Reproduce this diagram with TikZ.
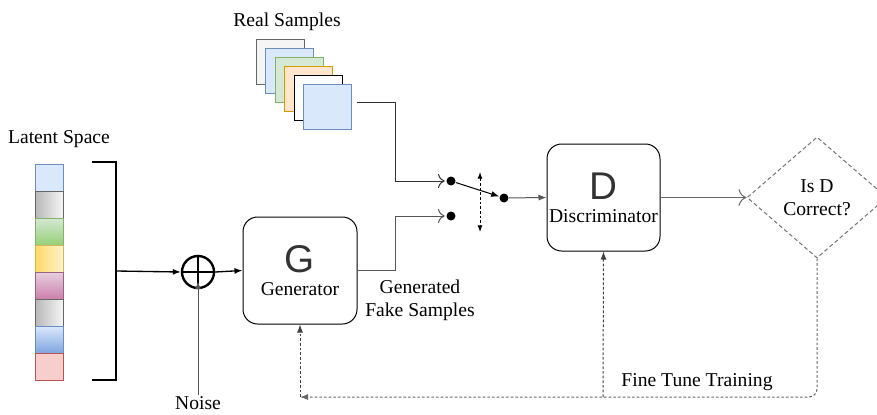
\documentclass[tikz,border=0pt]{standalone}
\usepackage{fontspec}
\setmainfont{Liberation Serif}
\newfontfamily\letterfont{Liberation Sans}
\usetikzlibrary{arrows.meta,shapes.geometric}

\definecolor{blueFill}{HTML}{DAE8FC}
\definecolor{blueLine}{HTML}{6C8EBF}
\definecolor{greenFill}{HTML}{D5E8D4}
\definecolor{greenLine}{HTML}{82B366}
\definecolor{orangeFill}{HTML}{FFE6CC}
\definecolor{orangeLine}{HTML}{D79B00}
\definecolor{greyFill}{HTML}{F5F5F5}
\definecolor{greyLine}{HTML}{666666}
\definecolor{yellowDark}{HTML}{FFD966}
\definecolor{yellowLight}{HTML}{FFF2CC}
\definecolor{yellowLine}{HTML}{D6B656}
\definecolor{pinkLight}{HTML}{E6D0DE}
\definecolor{pinkDark}{HTML}{CD7FAC}
\definecolor{pinkLine}{HTML}{996185}
\definecolor{redFill}{HTML}{F8CECC}
\definecolor{redLine}{HTML}{B85450}
\definecolor{blueDark}{HTML}{7EA6E0}
\definecolor{greenDark}{HTML}{97D077}
\definecolor{wire}{HTML}{555555}

\newcommand\bigchar[1]{{\letterfont\fontsize{29}{29}\selectfont\color{black!80}#1}}

\tikzset{every picture/.style={line width=0.75pt}}
\tikzset{
  txt/.style={font=\rmfamily\fontsize{14.7}{17}\selectfont, inner sep=0.75pt, align=center},
  block/.style={draw, rounded corners=11pt, minimum width=85.5pt, minimum height=80.25pt,
    inner sep=0pt, align=center, font=\rmfamily\fontsize{14.7}{17}\selectfont},
  latent/.style={draw, minimum width=21pt, minimum height=20.25pt, inner sep=0pt},
  lat1/.style={fill=blueFill, draw=blueLine},
  lat2/.style={left color=black!28, right color=greyFill, draw=greyLine},
  lat3/.style={top color=greenFill, bottom color=greenDark, draw=greenLine},
  lat4/.style={left color=yellowDark, right color=yellowLight, draw=yellowLine},
  lat5/.style={top color=pinkLight, bottom color=pinkDark, draw=pinkLine},
  lat6/.style={left color=black!28, right color=greyFill, draw=greyLine},
  lat7/.style={top color=blueFill, bottom color=blueDark, draw=blueLine},
  lat8/.style={fill=redFill, draw=redLine},
  sample/.style={draw, minimum width=36pt, minimum height=33.75pt, inner sep=0pt},
  smp1/.style={fill=greyFill, draw=greyLine},
  smp2/.style={fill=blueFill, draw=blueLine},
  smp3/.style={fill=greenFill, draw=greenLine},
  smp4/.style={fill=orangeFill, draw=orangeLine},
  smp5/.style={fill=white, draw=black},
  smp6/.style={fill=blueFill, draw=blueLine},
  dot/.style={circle, fill=black, minimum size=6.75pt, inner sep=0pt},
  feed/.style={black!75, dash pattern=on 2pt off 1.5pt},
}

\begin{document}
\begin{tikzpicture}[x=0.75pt,y=0.75pt,yscale=-1,xscale=1]
\useasboundingbox[fill=white] (0,0) rectangle (877,414);
% Text Node
\node[txt] (lattxt) at (59,139) {Latent Space};
%Shape: latent column
\foreach \k in {1,...,8}
  \node[latent, lat\k] (lat\k) at (49,150.5+27*\k) {};
%Shape: bracket
\draw[line width=1.5pt] (92,162) -- (116,162) -- (116,380) -- (92,380);
\coordinate (brk) at (116,271);
%Shape: sum
\node[circle, draw, line width=1.8pt, minimum size=24pt, inner sep=0pt] (sum) at (198,272) {};
\draw[line width=1.8pt] (sum.north) -- (sum.south) (sum.west) -- (sum.east);
% Text Node
\node[txt] (noise) at (198,403) {Noise};
\draw[-{Latex[length=6pt]}, line width=1pt] (brk) -- (sum.west);
\draw[-{Latex[length=6pt]}, wire] (noise.north) -- ([yshift=-6]sum.south);
% Generator
\node[block] (gen) at (300,270.5) {\bigchar{G}\\[0pt]Generator};
\draw[-{Latex[length=6pt]}, line width=1pt] (sum.east) -- (gen.west);
% Text Node
\node[txt] (faketxt) at (420,300) {Generated\\Fake Samples};
% Text Node
\node[txt] (realtxt) at (287,22) {Real Samples};
%Shape: sample stack
\foreach \k in {1,...,6}
  \node[sample, smp\k] (smp\k) at (280+9.5*\k-9.5,61.5+9*\k-9) {};
\coordinate (rs) at (357,102);
% switch
\node[dot] (real) at (451,181) {};
\node[dot] (fake) at (451,216) {};
\node[dot] (sw) at (504,198) {};
\draw[-{To[length=5pt]}, black!80, shorten >=1pt] (rs) -- ++(38,0) |- (real);
\draw[-{To[length=5pt]}, wire, shorten >=1pt] (gen.east) -- ++(38,0) |- (fake);
\draw[-{Latex[length=6pt]}] (real) -- (sw);
\coordinate (up) at (480,172);
\coordinate (dn) at (480,232);
\draw[{Latex[length=5pt]}-{Latex[length=5pt]}, dash pattern=on 2pt off 1.5pt] (up) -- (dn);
% Discriminator
\node[block, minimum width=84.75pt] (disc) at (603.5,197.5) {\bigchar{D}\\[0pt]Discriminator};
\draw[-{Latex[length=6pt]}, wire] (sw) -- (disc.west);
% Decision
\node[diamond, draw=black!55, dash pattern=on 3pt off 2pt, minimum width=105pt, minimum height=90.75pt,
  inner sep=0pt, aspect=1.16, align=center, font=\rmfamily\fontsize{14.7}{17}\selectfont] (check) at (817,197.5) {Is D\\Correct?};
\draw[-{To[length=6pt]}, black!60] (disc.east) -- (check.west);
% feedback
\coordinate (back) at (300,397);
\coordinate (tap) at (603,397);
\draw[feed, black!60, -{Latex[length=6pt]}, rounded corners=6pt] (check.south) |- (back);
\draw[feed, -{Latex[length=6pt]}] (back) -- (gen.south);
\draw[feed, -{Latex[length=6pt]}] (tap) -- (disc.south);
% Text Node
\node[txt] (finetxt) at (697,382) {Fine Tune Training};
\end{tikzpicture}
\end{document}
